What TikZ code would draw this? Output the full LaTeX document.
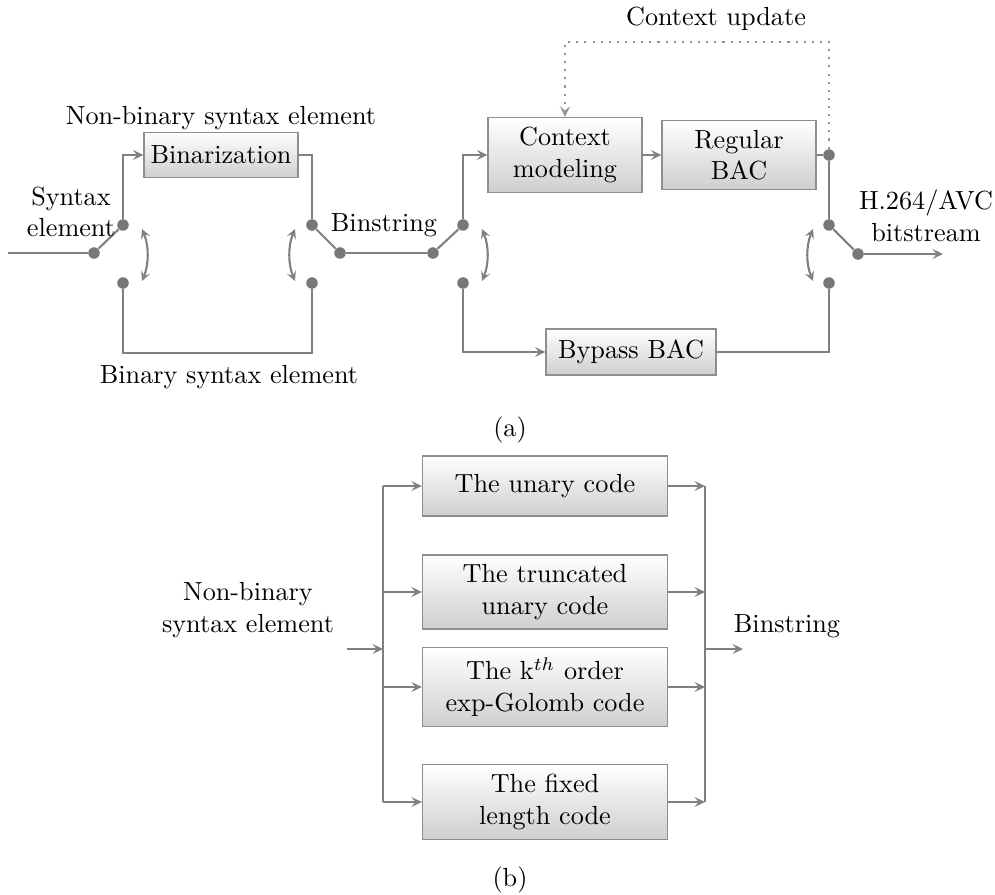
\documentclass[tikz,border=0pt]{standalone}
\usetikzlibrary{arrows.meta}
\definecolor{lc}{HTML}{808080}
\definecolor{dc}{HTML}{787878}
\definecolor{bc}{HTML}{8E8E8E}
\def\px{0.3817pt}
\begin{document}
\begin{tikzpicture}[x=0.3817pt, y=-0.3817pt,
  line/.style={draw=lc, line width=0.8pt},
  tip/.style={-{Stealth[length=4pt,width=3.8pt,inset=1.6pt]}},
  arr/.style={line, tip},
  dbl/.style={draw=lc, line width=0.8pt, {Stealth[length=3.6pt,width=3.6pt,inset=1.4pt]}-{Stealth[length=3.6pt,width=3.6pt,inset=1.4pt]}},
  dot/.style={circle, fill=dc, inner sep=0pt, minimum size=4.4pt},
  blk/.style={draw=bc, line width=0.5pt, top color=white, bottom color=black!19,
              align=center, inner sep=0pt},
  lbl/.style={align=center, inner sep=0pt}]
\useasboundingbox (0,0) rectangle (995,895);

% ---------------- (a) CABAC encoder ----------------
% blocks
\node[blk, minimum width=154*\px, minimum height=45*\px] (bin) at (221,155) {Binarization};
\node[blk, minimum width=154*\px, minimum height=75*\px] (cm) at (565,155) {Context\\modeling};
\node[blk, minimum width=154*\px, minimum height=69*\px] (rb) at (739,155) {Regular\\BAC};
\node[blk, minimum width=170*\px, minimum height=46*\px] (bp) at (631,352) {Bypass BAC};

% switch contacts
\node[dot] (s1p) at (94,253) {};
\node[dot] (s1u) at (123,225) {};
\node[dot] (s1d) at (123,283) {};
\node[dot] (s2p) at (340,253) {};
\node[dot] (s2u) at (312,225) {};
\node[dot] (s2d) at (312,283) {};
\node[dot] (s3p) at (433,253) {};
\node[dot] (s3u) at (463,225) {};
\node[dot] (s3d) at (463,283) {};
\node[dot] (s4p) at (858,254) {};
\node[dot] (s4u) at (829,225) {};
\node[dot] (s4d) at (829,283) {};
\node[dot] (rbo) at (829,155) {};

\coordinate (in) at (8,253);
\coordinate (out) at (943,254);
\coordinate (cu) at (829,42);

% wiring
\draw[line] (in) -- (s1p);
\draw[line] (s1p) -- (s1u);
\draw[arr] (s1u) |- (bin);
\draw[line] (bin) -| (s2u);
\draw[line] (s1d) -- ++(0,70) -| (s2d);
\draw[line] (s2u) -- (s2p);
\draw[line] (s2p) -- (s3p);
\draw[line] (s3p) -- (s3u);
\draw[arr] (s3u) |- (cm);
\draw[arr] (s3d) |- (bp);
\draw[arr] (cm) -- (rb);
\draw[line] (rb) -- (rbo);
\draw[line] (rbo) -- (s4u);
\draw[line] (s4u) -- (s4p);
\draw[arr] (s4p) -- (out);
\draw[line] (bp) -| (s4d);
\draw[draw=lc!85, line width=0.8pt, dash pattern=on 0.8pt off 2.3pt, tip] (rbo) -- (cu) -| (cm);

% switch throw arcs
\draw[dbl] (142,229) .. controls (149,246) and (149,264) .. (142,281);
\draw[dbl] (295,229) .. controls (288,246) and (288,264) .. (295,281);
\draw[dbl] (482,229) .. controls (489,246) and (489,264) .. (482,281);
\draw[dbl] (813,229) .. controls (806,246) and (806,264) .. (813,281);

% labels
\node[lbl] (l1) at (221,118) {Non-binary syntax element};
\node[lbl] (l2) at (71,212) {Syntax\\element};
\node[lbl] (l3) at (384,225) {Binstring};
\node[lbl] (l4) at (229,377) {Binary syntax element};
\node[lbl] (l5) at (716,19) {Context update};
\node[lbl] (l6) at (926,216) {H.264/AVC\\bitstream};
\node[lbl] (cap1) at (510,430) {(a)};

% ---------------- (b) binarization schemes ----------------
\node[blk, minimum width=245*\px, minimum height=60*\px] (b1) at (545,486) {The unary code};
\node[blk, minimum width=245*\px, minimum height=74*\px] (b2) at (545,592) {The truncated\\unary code};
\node[blk, minimum width=245*\px, minimum height=79*\px] (b3) at (545,687) {The k$^{th}$ order\\exp-Golomb code};
\node[blk, minimum width=245*\px, minimum height=75*\px] (b4) at (545,802) {The fixed\\length code};

\coordinate (bin0) at (347,649);
\coordinate (lt) at (383,486);
\coordinate (lb) at (383,802);
\coordinate (lm) at (383,649);
\coordinate (rt) at (705,486);
\coordinate (rbm) at (705,802);
\coordinate (rm) at (705,649);
\coordinate (bout) at (743,649);

\draw[line] (lt) -- (lb);
\draw[line] (rt) -- (rbm);
\draw[arr] (bin0) -- (lm);
\draw[arr] (rm) -- (bout);
\foreach \b in {b1,b2,b3,b4}{
  \draw[arr] (lt |- \b) -- (\b);
  \draw[arr] (\b) -- (rt |- \b);
}

\node[lbl] (l7) at (248,610) {Non-binary\\syntax element};
\node[lbl] (l8) at (787,626) {Binstring};
\node[lbl] (cap2) at (510,880) {(b)};
\end{tikzpicture}
\end{document}
